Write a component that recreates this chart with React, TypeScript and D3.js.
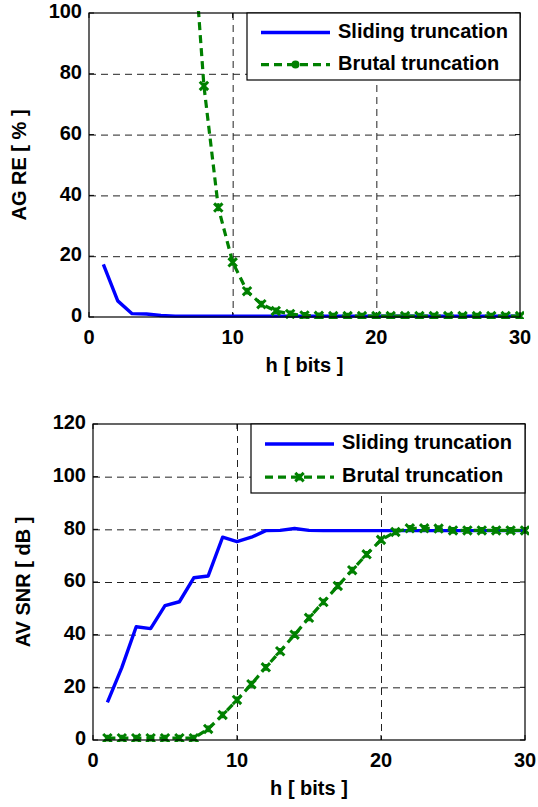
import React from "react";
import * as d3 from "d3";

const hBits = d3.range(1, 31);
// Top chart: AG RE [%]
const agSliding = [17.3, 5.3, 1.1, 1.0, 0.5, 0.3, 0.3, 0.3, 0.3, 0.3, 0.3, 0.3, 0.3, 0.3, 0.3, 0.3, 0.3, 0.3, 0.3, 0.3, 0.3, 0.3, 0.3, 0.3, 0.3, 0.3, 0.3, 0.3, 0.3, 0.3];
const agBrutal = [9000, 4500, 2300, 1150, 580, 290, 141, 76, 36, 18, 8.5, 4.2, 2.0, 1.0, 0.5, 0.4, 0.3, 0.3, 0.3, 0.3, 0.3, 0.3, 0.3, 0.3, 0.3, 0.3, 0.3, 0.3, 0.3, 0.3];
// Bottom chart: AV SNR [dB]
const avSliding = [14.3, 27.5, 43, 42.3, 51, 52.5, 61.6, 62.3, 77, 75.3, 77, 79.5, 79.6, 80.3, 79.6, 79.5, 79.5, 79.5, 79.5, 79.5, 79.5, 79.5, 79.5, 79.5, 79.5, 79.5, 79.5, 79.5, 79.5, 79.5];
const avBrutal = [0.7, 0.7, 0.7, 0.7, 0.7, 0.7, 0.7, 4.2, 9.5, 15.2, 21.2, 27.6, 33.7, 40, 46.4, 52.4, 58.5, 64.5, 70.5, 76, 79, 80.4, 80.4, 80.3, 79.6, 79.6, 79.6, 79.6, 79.6, 79.6];

const xTicks = [0, 10, 20, 30];
const topYTicks = [0, 20, 40, 60, 80, 100];
const botYTicks = [0, 20, 40, 60, 80, 100, 120];
const seriesNames = ["Sliding truncation", "Brutal truncation"];

const BLUE = "#0000ff";
const GREEN = "#008000";
const FONT = "'Liberation Sans', Arial, Helvetica, sans-serif";

type PanelProps = {
  id: string;
  left: number; right: number; top: number; bottom: number;
  yMax: number; yTicks: number[];
  sliding: number[]; brutal: number[];
  yLabel: string;
  legend: { x0: number; y1: number; legendMarker: "dot" | "x" };
};

function XMark({ cx, cy, s, color }: { cx: number; cy: number; s: number; color: string }) {
  return (
    <path d={`M${cx - s},${cy - s}L${cx + s},${cy + s}M${cx - s},${cy + s}L${cx + s},${cy - s}M${cx},${cy - s * 0.8}L${cx},${cy + s * 0.8}`} stroke={color} strokeWidth={3} fill="none" />
  );
}

function Panel(p: PanelProps) {
  const x = d3.scaleLinear().domain([0, 30]).range([p.left, p.right]);
  const y = d3.scaleLinear().domain([0, p.yMax]).range([p.bottom, p.top]);
  const line = d3.line<number>().x((_, i) => x(hBits[i])).y((v) => y(v));
  const tick = 5;
  const lx0 = p.legend.x0;
  const lx1 = p.right;
  const ly0 = p.top;
  const ly1 = p.legend.y1;
  const row1 = ly0 + (ly1 - ly0) * 0.29;
  const row2 = ly0 + (ly1 - ly0) * 0.77;
  const sampleX0 = lx0 + 14;
  const sampleX1 = lx0 + 83;
  return (
    <g>
      <defs>
        <clipPath id={p.id}>
          <rect x={p.left} y={p.top - 2} width={p.right - p.left + 4} height={p.bottom - p.top + 4} />
        </clipPath>
      </defs>
      <rect x={p.left} y={p.top} width={p.right - p.left} height={p.bottom - p.top} fill="#fff" />
      {/* grid */}
      {xTicks.filter((t) => t > 0 && t < 30).map((t) => (
        <line key={"gx" + t} x1={x(t) + 0.5} x2={x(t) + 0.5} y1={p.top} y2={p.bottom} stroke="#222" strokeWidth={1} strokeDasharray="7,5" />
      ))}
      {p.yTicks.filter((t) => t > 0 && t < p.yMax).map((t) => (
        <line key={"gy" + t} x1={p.left} x2={p.right} y1={y(t) + 0.5} y2={y(t) + 0.5} stroke="#222" strokeWidth={1} strokeDasharray="7,5" />
      ))}
      {/* ticks */}
      {xTicks.map((t) => (
        <g key={"tx" + t}>
          <line x1={x(t)} x2={x(t)} y1={p.bottom} y2={p.bottom - tick} stroke="#000" />
          <line x1={x(t)} x2={x(t)} y1={p.top} y2={p.top + tick} stroke="#000" />
          <text x={x(t)} y={p.bottom + 22} textAnchor="middle" dominantBaseline="middle" fontFamily={FONT} fontWeight="bold" fontSize={20}>{t}</text>
        </g>
      ))}
      {p.yTicks.map((t) => (
        <g key={"ty" + t}>
          <line x1={p.left} x2={p.left + tick} y1={y(t)} y2={y(t)} stroke="#000" />
          <line x1={p.right} x2={p.right - tick} y1={y(t)} y2={y(t)} stroke="#000" />
          <text x={p.left - 7} y={y(t)} textAnchor="end" dominantBaseline="middle" fontFamily={FONT} fontWeight="bold" fontSize={20}>{t}</text>
        </g>
      ))}
      {/* series */}
      <g clipPath={`url(#${p.id})`}>
        <path d={line(p.sliding) || ""} fill="none" stroke={BLUE} strokeWidth={3.4} strokeLinejoin="round" />
        <path d={line(p.brutal) || ""} fill="none" stroke={GREEN} strokeWidth={3.2} strokeDasharray="8,5" />
        {p.brutal.map((v, i) => (
          <XMark key={i} cx={x(hBits[i])} cy={y(v)} s={4.2} color={GREEN} />
        ))}
      </g>
      {/* axes box */}
      <rect x={p.left} y={p.top} width={p.right - p.left} height={p.bottom - p.top} fill="none" stroke="#000" strokeWidth={1.2} />
      {/* legend */}
      <rect x={lx0} y={ly0} width={lx1 - lx0} height={ly1 - ly0} fill="#fff" stroke="#000" strokeWidth={1.2} />
      <line x1={sampleX0} x2={sampleX1} y1={row1} y2={row1} stroke={BLUE} strokeWidth={3.4} />
      <line x1={sampleX0} x2={sampleX1} y1={row2} y2={row2} stroke={GREEN} strokeWidth={3.2} strokeDasharray="8,5" />
      {p.legend.legendMarker === "dot" ? (
        <circle cx={(sampleX0 + sampleX1) / 2} cy={row2} r={4} fill={GREEN} />
      ) : (
        <XMark cx={(sampleX0 + sampleX1) / 2} cy={row2} s={4.2} color={GREEN} />
      )}
      <text x={sampleX1 + 8} y={row1} dominantBaseline="middle" fontFamily={FONT} fontWeight="bold" fontSize={20}>{seriesNames[0]}</text>
      <text x={sampleX1 + 8} y={row2} dominantBaseline="middle" fontFamily={FONT} fontWeight="bold" fontSize={20}>{seriesNames[1]}</text>
      {/* labels */}
      <text x={(p.left + p.right) / 2} y={p.bottom + 50} textAnchor="middle" dominantBaseline="middle" fontFamily={FONT} fontWeight="bold" fontSize={20}>h [ bits ]</text>
      <text transform={`translate(${p.left - 68},${(p.top + p.bottom) / 2}) rotate(-90)`} textAnchor="middle" dominantBaseline="middle" fontFamily={FONT} fontWeight="bold" fontSize={20}>{p.yLabel}</text>
    </g>
  );
}

export default function App() {
  return (
    <svg width={538} height={807} style={{ position: "absolute", left: 0, top: 0, background: "#fff" }}>
      <rect width={538} height={807} fill="#fff" />
      <Panel id="clipTop" left={89} right={520} top={13} bottom={317} yMax={100} yTicks={topYTicks}
        sliding={agSliding} brutal={agBrutal} yLabel="AG RE [ % ]" legend={{ x0: 247, y1: 80, legendMarker: "dot" }} />
      <Panel id="clipBot" left={93} right={525} top={424} bottom={740} yMax={120} yTicks={botYTicks}
        sliding={avSliding} brutal={avBrutal} yLabel="AV SNR [ dB ]" legend={{ x0: 251, y1: 493, legendMarker: "x" }} />
    </svg>
  );
}
